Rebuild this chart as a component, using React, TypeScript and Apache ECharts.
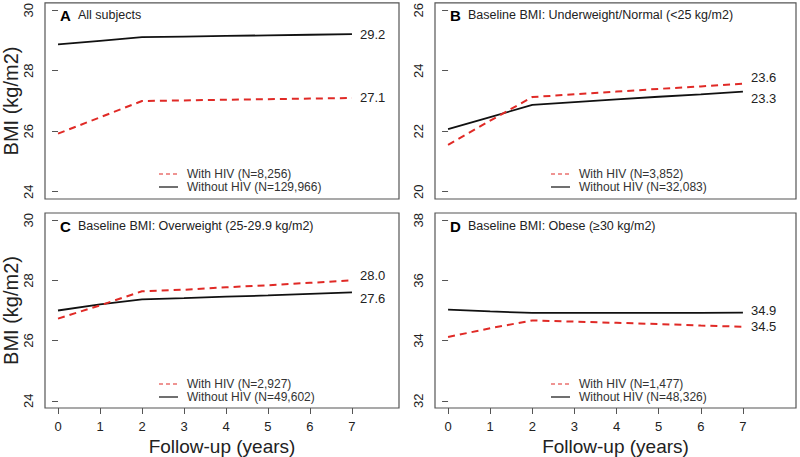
import React, { useEffect, useRef } from "react";
import * as echarts from "echarts";

const years = [0, 1, 2, 3, 4, 5, 6, 7];
const xTicks = [0, 1, 2, 3, 4, 5, 6, 7];

const withHivA = [25.92, 26.46, 27.0, 27.02, 27.04, 27.06, 27.08, 27.1];
const withoutHivA = [28.87, 28.99, 29.11, 29.13, 29.15, 29.17, 29.19, 29.21];
const withHivB = [21.55, 22.35, 23.13, 23.22, 23.31, 23.4, 23.48, 23.57];
const withoutHivB = [22.07, 22.47, 22.87, 22.96, 23.05, 23.14, 23.22, 23.31];
const withHivC = [26.73, 27.17, 27.64, 27.69, 27.77, 27.84, 27.92, 28.0];
const withoutHivC = [27.0, 27.2, 27.37, 27.41, 27.46, 27.5, 27.55, 27.6];
const withHivD = [34.12, 34.41, 34.67, 34.63, 34.59, 34.55, 34.5, 34.46];
const withoutHivD = [35.03, 34.97, 34.92, 34.92, 34.92, 34.92, 34.92, 34.93];

const yTicksA = [24, 26, 28, 30];
const yTicksB = [20, 22, 24, 26];
const yTicksC = [24, 26, 28, 30];
const yTicksD = [32, 34, 36, 38];

const panelLetters = ["A", "B", "C", "D"];
const panelTitles = [
  "All subjects",
  "Baseline BMI: Underweight/Normal (<25 kg/m2)",
  "Baseline BMI: Overweight (25-29.9 kg/m2)",
  "Baseline BMI: Obese (\u226530 kg/m2)",
];
const legendWith = ["With HIV (N=8,256)", "With HIV (N=3,852)", "With HIV (N=2,927)", "With HIV (N=1,477)"];
const legendWithout = [
  "Without HIV (N=129,966)",
  "Without HIV (N=32,083)",
  "Without HIV (N=49,602)",
  "Without HIV (N=48,326)",
];

const FONT = "'Liberation Sans', Arial, Helvetica, sans-serif";
const RED = "#e02a26";
const BLACK = "#111111";
const BORDER = "#555555";
const TEXT = "#222222";

export default function App() {
  const ref = useRef<HTMLDivElement>(null);

  useEffect(() => {
    document.body.style.margin = "0";
    if (!ref.current) return;
    const chart = echarts.init(ref.current, null, { renderer: "svg" });

    const grids = [
      { left: 45, top: 2, width: 354, height: 197 },
      { left: 435, top: 2, width: 361, height: 197 },
      { left: 45, top: 213, width: 354, height: 196 },
      { left: 435, top: 213, width: 361, height: 196 },
    ];
    const xRanges = [
      [-0.31, 8.12],
      [-0.31, 8.26],
      [-0.31, 8.12],
      [-0.31, 8.26],
    ];
    const yTicks = [yTicksA, yTicksB, yTicksC, yTicksD];
    const withData = [withHivA, withHivB, withHivC, withHivD];
    const withoutData = [withoutHivA, withoutHivB, withoutHivC, withoutHivD];
    const withOffsets = [0, -6, -5, 0];
    const withoutOffsets = [0, 7, 6, -2];

    const xAxis = grids.map((_, i) => ({
      type: "value",
      gridIndex: i,
      min: xRanges[i][0],
      max: xRanges[i][1],
      show: i >= 2,
      splitLine: { show: false },
      axisLine: { show: false },
      axisTick: {
        show: true,
        length: 6,
        customValues: xTicks,
        lineStyle: { color: BORDER, width: 1 },
      },
      axisLabel: {
        show: true,
        customValues: xTicks,
        margin: 12,
        fontSize: 13,
        color: TEXT,
        fontFamily: FONT,
      },
      name: i >= 2 ? "Follow-up (years)" : "",
      nameLocation: "middle",
      nameGap: 29,
      nameTextStyle: { fontSize: 19, color: TEXT, fontFamily: FONT },
    }));

    const yAxis = grids.map((_, i) => {
      const t = yTicks[i];
      const span = t[t.length - 1] - t[0];
      return {
        type: "value",
        gridIndex: i,
        min: t[0] - span * 0.04,
        max: t[t.length - 1] + span * 0.04,
        splitLine: { show: false },
        axisLine: { show: false },
        axisTick: {
          show: true,
          length: 6,
          customValues: t,
          lineStyle: { color: BORDER, width: 1 },
        },
        axisLabel: {
          show: true,
          customValues: t,
          rotate: 90,
          margin: 10,
          fontSize: 13,
          color: TEXT,
          fontFamily: FONT,
        },
        name: i % 2 === 0 ? "BMI (kg/m2)" : "",
        nameLocation: "middle",
        nameGap: 24,
        nameRotate: 90,
        nameTextStyle: { fontSize: 20, color: TEXT, fontFamily: FONT },
      };
    });

    const series: any[] = [];
    grids.forEach((_, i) => {
      series.push({
        type: "line",
        name: legendWith[i],
        xAxisIndex: i,
        yAxisIndex: i,
        data: years.map((y, j) => [y, withData[i][j]]),
        showSymbol: false,
        symbol: "none",
        lineStyle: { color: RED, width: 2, type: [7, 5] },
        itemStyle: { color: RED },
        endLabel: {
          show: true,
          formatter: (p: any) => Number(p.value[1]).toFixed(1),
          distance: 8,
          offset: [0, withOffsets[i]],
          fontSize: 13,
          color: TEXT,
          fontFamily: FONT,
        },
        z: 3,
      });
      series.push({
        type: "line",
        name: legendWithout[i],
        xAxisIndex: i,
        yAxisIndex: i,
        data: years.map((y, j) => [y, withoutData[i][j]]),
        showSymbol: false,
        symbol: "none",
        lineStyle: { color: BLACK, width: 1.8 },
        itemStyle: { color: BLACK },
        endLabel: {
          show: true,
          formatter: (p: any) => Number(p.value[1]).toFixed(1),
          distance: 8,
          offset: [0, withoutOffsets[i]],
          fontSize: 13,
          color: TEXT,
          fontFamily: FONT,
        },
        z: 2,
      });
    });

    const graphic: any[] = [];
    grids.forEach((g, i) => {
      const titleY = g.top + 13;
      graphic.push({
        type: "text",
        x: g.left + 15,
        y: titleY,
        style: {
          text: panelLetters[i],
          fontSize: 15,
          fontWeight: "bold",
          fill: "#000",
          fontFamily: FONT,
          verticalAlign: "middle",
        },
      });
      graphic.push({
        type: "text",
        x: g.left + 33,
        y: titleY,
        style: {
          text: panelTitles[i],
          fontSize: 12.5,
          fill: TEXT,
          fontFamily: FONT,
          verticalAlign: "middle",
        },
      });
      const legLeft = i % 2 === 0 ? g.left + 114 : g.left + 116;
      const row1 = g.top + g.height - 25;
      const row2 = g.top + g.height - 12;
      graphic.push({
        type: "line",
        shape: { x1: legLeft, y1: row1, x2: legLeft + 19, y2: row1 },
        style: { stroke: RED, lineWidth: 1.2, lineDash: [4, 3] },
      });
      graphic.push({
        type: "line",
        shape: { x1: legLeft, y1: row2, x2: legLeft + 19, y2: row2 },
        style: { stroke: BLACK, lineWidth: 1.2 },
      });
      graphic.push({
        type: "text",
        x: legLeft + 28,
        y: row1,
        style: { text: legendWith[i], fontSize: 12, fill: "#333", fontFamily: FONT, verticalAlign: "middle" },
      });
      graphic.push({
        type: "text",
        x: legLeft + 28,
        y: row2,
        style: { text: legendWithout[i], fontSize: 12, fill: "#333", fontFamily: FONT, verticalAlign: "middle" },
      });
    });

    chart.setOption({
      animation: false,
      backgroundColor: "#ffffff",
      textStyle: { fontFamily: FONT },
      grid: grids.map((g) => ({
        ...g,
        show: true,
        borderColor: BORDER,
        borderWidth: 1.2,
        backgroundColor: "transparent",
        containLabel: false,
      })),
      xAxis,
      yAxis,
      series,
      graphic,
    });

    return () => chart.dispose();
  }, []);

  return <div ref={ref} style={{ width: 800, height: 457 }} />;
}
